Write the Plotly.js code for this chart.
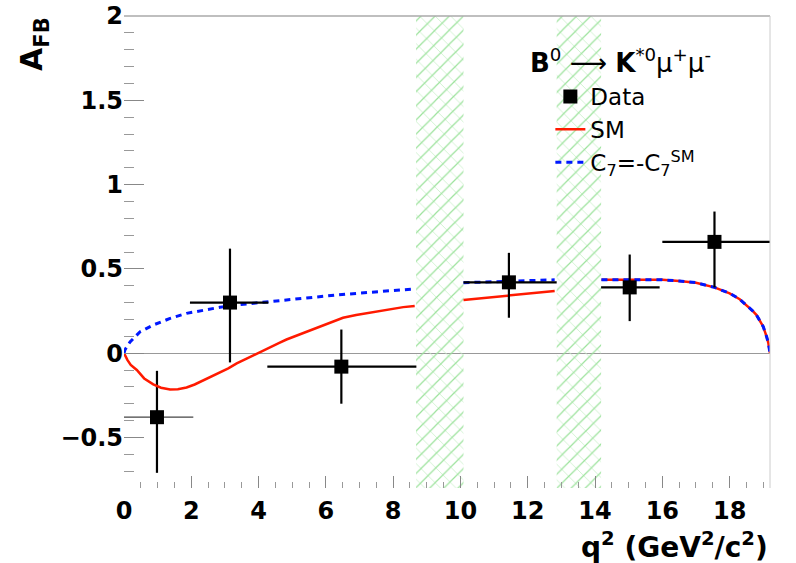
<!DOCTYPE html>
<html>
<head>
<meta charset="utf-8">
<script src="https://cdn.plot.ly/plotly-3.0.1.min.js"></script>
<style>html,body{margin:0;padding:0;background:#fff;}#chart{width:796px;height:563px;}</style>
</head>
<body>
<div id="chart"></div>
<script>
// Measured data points (q2 bin centres, AFB)
const dataX      = [0.98, 3.15, 6.46, 11.44, 15.03, 17.55];
const dataY      = [-0.38, 0.30, -0.08, 0.42, 0.39, 0.66];
const dataXPlus  = [1.08, 1.14, 2.23, 1.42, 0.89, 1.65];
const dataXMinus = [0.98, 1.19, 2.20, 1.35, 0.85, 1.55];
const dataYPlus  = [0.275, 0.32, 0.22, 0.175, 0.195, 0.18];
const dataYMinus = [0.33, 0.355, 0.22, 0.21, 0.20, 0.27];

// Excluded charmonium regions
const vetoLow  = [8.68, 12.86];
const vetoHigh = [10.09, 14.18];
const yMin = -0.8, yMax = 2.0;

// SM prediction (three segments)
const smX1 = [0, 0.1, 0.2, 0.38, 0.6, 0.87, 1.1, 1.37, 1.6, 1.86, 2.1, 2.36, 2.6, 2.85, 3.1, 3.35, 3.6, 3.84, 4.1, 4.34, 4.6, 4.83, 5.1, 5.33, 5.6, 5.82, 6.1, 6.32, 6.51, 6.9, 7.31, 7.7, 8.0, 8.3, 8.64];
const smY1 = [0, -0.04, -0.07, -0.10, -0.15, -0.185, -0.205, -0.216, -0.214, -0.204, -0.186, -0.161, -0.14, -0.117, -0.09, -0.061, -0.036, -0.012, 0.013, 0.038, 0.06, 0.081, 0.102, 0.121, 0.14, 0.157, 0.177, 0.196, 0.21, 0.226, 0.24, 0.254, 0.266, 0.273, 0.28];
const smX2 = [10.09, 11.0, 12.0, 12.8];
const smY2 = [0.315, 0.333, 0.352, 0.369];
const smX3 = [14.19, 15.0, 16.0, 16.5, 17.0, 17.55, 18.0, 18.3, 18.5, 18.7, 18.8, 18.9, 19.0, 19.1, 19.15, 19.2];
const smY3 = [0.435, 0.437, 0.435, 0.428, 0.418, 0.39, 0.355, 0.32, 0.286, 0.248, 0.226, 0.195, 0.157, 0.097, 0.06, 0.0];

// Flipped-sign C7 prediction
const c7X1 = [0, 0.03, 0.18, 0.48, 0.87, 1.37, 1.86, 2.36, 2.85, 3.35, 3.84, 4.34, 5.33, 6.32, 7.31, 8.0, 8.64];
const c7Y1 = [0, 0.02, 0.067, 0.127, 0.167, 0.206, 0.236, 0.256, 0.272, 0.286, 0.296, 0.306, 0.325, 0.345, 0.361, 0.372, 0.381];
const c7X2 = [10.09, 11.0, 12.0, 12.8];
const c7Y2 = [0.418, 0.424, 0.43, 0.435];
const c7X3 = smX3;
const c7Y3 = smY3;

const tickFont = {family: 'DejaVu Sans', size: 24, color: '#000', weight: 'bold'};
const traces = [];

// hatched veto bands (two overlaid hatch directions)
const hatches = [
  {shape: '\\', fgcolor: '#cdf2cd', solidity: 0.08, size: 11},
  {shape: '/', fgcolor: '#9ce29c', solidity: 0.12, size: 10}
];
for (let i = 0; i < vetoLow.length; i++) {
  for (const h of hatches) {
    traces.push({
      x: [vetoLow[i], vetoHigh[i], vetoHigh[i], vetoLow[i], vetoLow[i]],
      y: [yMin, yMin, yMax, yMax, yMin],
      type: 'scatter', mode: 'lines', fill: 'toself',
      line: {width: 0, color: 'rgba(0,0,0,0)'},
      fillcolor: 'rgba(0,0,0,0)',
      fillpattern: {shape: h.shape, fgcolor: h.fgcolor, bgcolor: 'rgba(255,255,255,0)', size: h.size, solidity: h.solidity},
      showlegend: false, hoverinfo: 'skip'
    });
  }
}

// data (first point drawn separately for its thinner horizontal bar)
traces.push({
  x: dataX.slice(0, 1), y: dataY.slice(0, 1), type: 'scatter', mode: 'markers',
  marker: {symbol: 'square', size: 14, color: '#000'},
  error_x: {type: 'data', array: dataXPlus.slice(0, 1), arrayminus: dataXMinus.slice(0, 1), color: '#444', thickness: 1.2, width: 0},
  error_y: {type: 'data', array: dataYPlus.slice(0, 1), arrayminus: dataYMinus.slice(0, 1), color: '#000', thickness: 2.2, width: 0},
  showlegend: false
});

const sm = {color: '#ff1a00', width: 2.5};
const c7 = {color: '#0018ff', width: 3, dash: '6px,5px'};
traces.push({x: smX1, y: smY1, type: 'scatter', mode: 'lines', line: sm, name: 'SM', legendrank: 2, showlegend: true});
traces.push({x: smX2, y: smY2, type: 'scatter', mode: 'lines', line: sm, showlegend: false});
traces.push({x: smX3, y: smY3, type: 'scatter', mode: 'lines', line: sm, showlegend: false});
traces.push({x: c7X1, y: c7Y1, type: 'scatter', mode: 'lines', line: c7, name: 'C<sub>7</sub>=-C<sub>7</sub><sup>SM</sup>', legendrank: 3});
traces.push({x: c7X2, y: c7Y2, type: 'scatter', mode: 'lines', line: c7, showlegend: false});
traces.push({x: c7X3, y: c7Y3, type: 'scatter', mode: 'lines', line: c7, showlegend: false});

traces.push({
  x: dataX.slice(1), y: dataY.slice(1), type: 'scatter', mode: 'markers', name: 'Data', legendrank: 1,
  marker: {symbol: 'square', size: 14, color: '#000'},
  error_x: {type: 'data', array: dataXPlus.slice(1), arrayminus: dataXMinus.slice(1), color: '#000', thickness: 2.2, width: 0},
  error_y: {type: 'data', array: dataYPlus.slice(1), arrayminus: dataYMinus.slice(1), color: '#000', thickness: 2.2, width: 0}
});

const layout = {
  width: 796, height: 563,
  margin: {l: 124, r: 26, t: 16, b: 75},
  paper_bgcolor: '#fff', plot_bgcolor: '#fff',
  showlegend: true,
  legend: {x: 0.66, xanchor: 'left', y: 0.875, yanchor: 'top', bgcolor: 'rgba(0,0,0,0)',
           font: {family: 'DejaVu Sans', size: 23, color: '#000'}, tracegroupgap: 0, traceorder: 'normal'},
  xaxis: {range: [0, 19.2], dtick: 2, tick0: 0, ticks: 'inside', ticklen: 12, tickwidth: 1, tickcolor: '#888',
          minor: {dtick: 0.5, ticks: 'inside', ticklen: 6, tickcolor: '#999'},
          ticklabelstandoff: 6,
          showgrid: false, zeroline: false, showline: false, tickfont: tickFont, fixedrange: true},
  yaxis: {range: [yMin, yMax], dtick: 0.5, tick0: 0, ticks: 'inside', ticklen: 20, tickwidth: 1, tickcolor: '#888',
          minor: {dtick: 0.1, ticks: 'inside', ticklen: 10, tickcolor: '#999'},
          showgrid: false, zeroline: true, zerolinecolor: '#999', zerolinewidth: 1, showline: false,
          tickfont: tickFont, fixedrange: true},
  shapes: [
    {type: 'line', xref: 'paper', yref: 'paper', x0: 0, x1: 1, y0: 1, y1: 1, line: {color: '#aaa', width: 1.5}},
    {type: 'line', xref: 'paper', yref: 'paper', x0: 1, x1: 1, y0: 0, y1: 1, line: {color: '#ccc', width: 1}}
  ],
  annotations: [
    {xref: 'paper', yref: 'paper', x: 0.625, y: 0.905, xanchor: 'left', yanchor: 'middle', showarrow: false,
     text: '<b>B</b><sup>0</sup> ⟶ <b>K</b><sup>*0</sup>μ<sup>+</sup>μ<sup>-</sup>',
     font: {family: 'DejaVu Sans', size: 26, color: '#000'}},
    {xref: 'paper', yref: 'paper', x: 1.0, y: -0.122, xanchor: 'right', yanchor: 'middle', showarrow: false,
     text: '<b>q<sup>2</sup> (GeV<sup>2</sup>/c<sup>2</sup>)</b>',
     font: {family: 'DejaVu Sans', size: 28, color: '#000'}},
    {xref: 'paper', yref: 'paper', x: -0.14, y: 0.94, xanchor: 'center', yanchor: 'middle', showarrow: false,
     textangle: -90, text: '<b>A<sub>FB</sub></b>',
     font: {family: 'DejaVu Sans', size: 30, color: '#000'}}
  ]
};

Plotly.newPlot('chart', traces, layout, {displayModeBar: false, staticPlot: true});
</script>
</body>
</html>
